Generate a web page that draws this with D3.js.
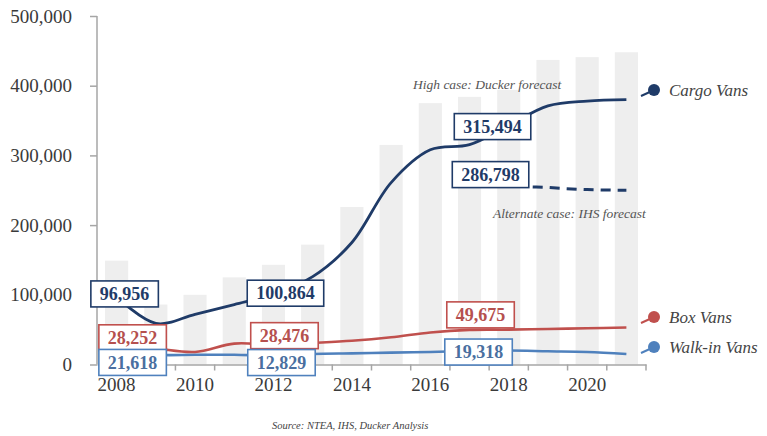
<!DOCTYPE html>
<html>
<head>
<meta charset="utf-8">
<script src="https://cdn.jsdelivr.net/npm/d3@7"></script>
<style>
  body { margin: 0; background: #fff; }
</style>
</head>
<body>
<div id="chart"></div>
<script>
var years = [2008, 2009, 2010, 2011, 2012, 2013, 2014, 2015, 2016, 2017, 2018, 2019, 2020, 2021];
var totalVans = [149000, 86000, 100000, 125000, 143000, 172000, 226000, 315000, 375000, 384000, 394000, 437000, 441000, 448000];
var cargoVans = [96956, 59000, 72000, 86000, 100864, 126000, 175000, 261000, 308000, 315494, 343000, 371000, 378000, 380000];
var altYears = [2017, 2018, 2019, 2020, 2021];
var cargoAlt = [286798, 259000, 254000, 251000, 250000];
var boxVans = [28252, 23000, 18000, 30000, 28476, 31000, 34000, 39000, 46000, 49675, 50000, 51000, 52000, 53000];
var walkinVans = [21618, 14000, 14000, 14000, 12829, 15000, 16000, 17000, 18000, 19318, 20000, 19000, 18000, 15000];
var yTicks = [0, 100000, 200000, 300000, 400000, 500000];
var xLabels = [2008, 2010, 2012, 2014, 2016, 2018, 2020];

var width = 767, height = 436;
var serif = "'Liberation Serif', 'DejaVu Serif', serif";
var navy = "#1f3b68", red = "#c0504d", blue = "#4f81bd", axisGray = "#a6a6a6";

var svg = d3.select("#chart").append("svg")
  .attr("width", width)
  .attr("height", height)
  .attr("font-family", serif);

var x = d3.scaleBand()
  .domain(years)
  .range([97, 646])
  .paddingInner(0.41)
  .paddingOuter(0.205);

var y = d3.scaleLinear()
  .domain([0, 500000])
  .range([364.5, 16]);

function cx(yr) { return x(yr) + x.bandwidth() / 2; }

// gray total bars
svg.append("g").selectAll("rect")
  .data(years)
  .enter().append("rect")
  .attr("x", function(d) { return x(d); })
  .attr("width", x.bandwidth())
  .attr("y", function(d, i) { return y(totalVans[i]); })
  .attr("height", function(d, i) { return y(0) - y(totalVans[i]); })
  .attr("fill", "#eeeeee");

// y axis
var yAxis = svg.append("g")
  .attr("transform", "translate(97,0)")
  .call(d3.axisLeft(y).tickValues(yTicks).tickSize(7).tickPadding(18).tickFormat(d3.format(",")));
yAxis.attr("font-family", serif);
yAxis.select(".domain").attr("stroke", axisGray).attr("stroke-width", 1.5).attr("d", "M0," + y(500000) + "V" + y(0));
yAxis.selectAll(".tick line").attr("stroke", axisGray).attr("stroke-width", 1.5);
yAxis.selectAll(".tick text")
  .attr("fill", "#3a3a3a")
  .style("font-size", "19px")
  .style("font-family", serif);

// x axis: labels every other year, ticks at category boundaries
var xAxis = svg.append("g")
  .attr("transform", "translate(0," + y(0) + ")")
  .call(d3.axisBottom(x).tickValues(xLabels).tickSize(0).tickPadding(13));
xAxis.attr("font-family", serif);
xAxis.select(".domain").attr("stroke", axisGray).attr("stroke-width", 1.5);
xAxis.selectAll(".tick text")
  .attr("fill", "#3a3a3a")
  .style("font-size", "19px")
  .style("font-family", serif);
var bounds = years.map(function(d) { return x(d) - x.step() * x.paddingInner() / 2; });
bounds.push(x.range()[1]);
xAxis.selectAll(".bound")
  .data(bounds.slice(1))
  .enter().append("line")
  .attr("x1", function(d) { return d; })
  .attr("x2", function(d) { return d; })
  .attr("y1", 0)
  .attr("y2", 6)
  .attr("stroke", axisGray)
  .attr("stroke-width", 1.5);

// lines
var line = d3.line()
  .x(function(d) { return cx(d[0]); })
  .y(function(d) { return y(d[1]); })
  .curve(d3.curveCatmullRom.alpha(0.5));

function pairs(xs, vs) { return xs.map(function(d, i) { return [d, vs[i]]; }); }

svg.append("path").datum(pairs(years, walkinVans))
  .attr("d", line).attr("fill", "none").attr("stroke", blue).attr("stroke-width", 2.6);
svg.append("path").datum(pairs(years, boxVans))
  .attr("d", line).attr("fill", "none").attr("stroke", red).attr("stroke-width", 2.6);
svg.append("path").datum(pairs(altYears, cargoAlt))
  .attr("d", line).attr("fill", "none").attr("stroke", navy).attr("stroke-width", 3)
  .attr("stroke-dasharray", "10,7");
svg.append("path").datum(pairs(years, cargoVans))
  .attr("d", line).attr("fill", "none").attr("stroke", navy).attr("stroke-width", 2.8);

// value callouts
var callouts = [
  {year: 2008, value: cargoVans[0], color: navy, text: "#1f3b68", dx: 8, dy: -3},
  {year: 2012, value: cargoVans[4], color: navy, text: "#1f3b68", dx: 12, dy: -1},
  {year: 2017, value: cargoVans[9], color: navy, text: "#1f3b68", dx: 23, dy: -18},
  {year: 2017, value: cargoAlt[0], color: navy, text: "#1f3b68", dx: 21, dy: 10},
  {year: 2008, value: boxVans[0], color: red, text: "#b5504e", dx: 16, dy: -7},
  {year: 2012, value: boxVans[4], color: red, text: "#b5504e", dx: 11, dy: -9},
  {year: 2017, value: boxVans[9], color: red, text: "#b5504e", dx: 11, dy: -15},
  {year: 2008, value: walkinVans[0], color: blue, text: "#4a6fa0", dx: 16, dy: 13},
  {year: 2012, value: walkinVans[4], color: blue, text: "#4a6fa0", dx: 8, dy: 7},
  {year: 2017, value: walkinVans[9], color: blue, text: "#4a6fa0", dx: 9, dy: 1}
];

var co = svg.append("g").selectAll("g")
  .data(callouts)
  .enter().append("g")
  .attr("transform", function(d) {
    return "translate(" + (cx(d.year) + d.dx) + "," + (y(d.value) + d.dy) + ")";
  });
co.append("rect")
  .attr("fill", "#fff")
  .attr("stroke", function(d) { return d.color; })
  .attr("stroke-width", 1.6);
co.append("text")
  .attr("text-anchor", "middle")
  .attr("dy", "0.34em")
  .attr("fill", function(d) { return d.text; })
  .style("font-family", serif)
  .style("font-size", "18px")
  .style("font-weight", "bold")
  .text(function(d) { return d3.format(",")(d.value); });
co.each(function() {
  var g = d3.select(this);
  var bb = g.select("text").node().getBBox();
  g.select("rect")
    .attr("x", -bb.width / 2 - 9)
    .attr("y", -13)
    .attr("width", bb.width + 18)
    .attr("height", 26);
});

// forecast notes
svg.append("text")
  .attr("x", 413).attr("y", 89)
  .attr("fill", "#555")
  .style("font-family", serif)
  .style("font-style", "italic")
  .style("font-size", "13.5px")
  .text("High case: Ducker forecast");
svg.append("text")
  .attr("x", 493).attr("y", 218)
  .attr("fill", "#555")
  .style("font-family", serif)
  .style("font-style", "italic")
  .style("font-size", "13.5px")
  .text("Alternate case: IHS forecast");

// legend
var legendNames = ["Cargo Vans", "Box Vans", "Walk-in Vans"];
var legendColors = [navy, red, blue];
var legendY = [90, 317, 347];

var lg = svg.append("g").selectAll("g")
  .data(legendNames)
  .enter().append("g")
  .attr("transform", function(d, i) { return "translate(654," + legendY[i] + ")"; });
lg.append("line")
  .attr("x1", -13).attr("y1", 6).attr("x2", -2).attr("y2", 1)
  .attr("stroke", function(d, i) { return legendColors[i]; })
  .attr("stroke-width", 2);
lg.append("circle")
  .attr("r", 6)
  .attr("fill", function(d, i) { return legendColors[i]; });
lg.append("text")
  .attr("x", 15)
  .attr("dy", "0.35em")
  .attr("fill", "#444")
  .style("font-family", serif)
  .style("font-style", "italic")
  .style("font-size", "17px")
  .text(function(d) { return d; });

// source
svg.append("text")
  .attr("x", 272).attr("y", 429)
  .attr("fill", "#444")
  .style("font-family", serif)
  .style("font-style", "italic")
  .style("font-size", "10.5px")
  .text("Source:  NTEA, IHS, Ducker Analysis");
</script>
</body>
</html>
